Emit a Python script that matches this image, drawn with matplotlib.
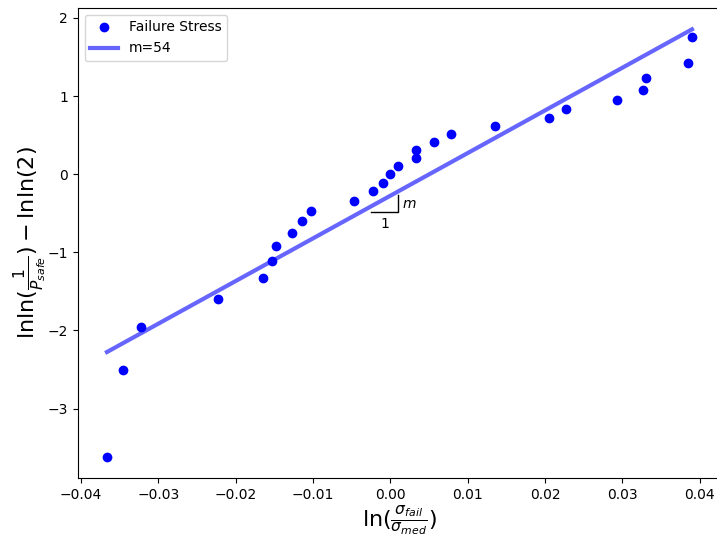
import matplotlib.pyplot as plt
import numpy as np

# data
log_stress = [-0.03665, -0.03458, -0.03226, -0.02232, -0.01652, -0.01535, -0.01484,
              -0.01277, -0.01148, -0.01032, -0.00477, -0.00219, -0.0009, 0.0,
              0.00103, 0.00335, 0.00335, 0.00568, 0.00787, 0.01355, 0.0205,
              0.0227, 0.0293, 0.03265, 0.0330, 0.03845, 0.0390]
lnln_p = [-3.615, -2.50, -1.96, -1.60, -1.33, -1.115, -0.92, -0.756, -0.60,
          -0.474, -0.346, -0.218, -0.115, 0.0, 0.103, 0.205, 0.308, 0.41,
          0.513, 0.615, 0.718, 0.833, 0.949, 1.077, 1.23, 1.423, 1.756]
slope = 54.6
intercept = -0.275

fig = plt.figure(figsize=(7.17, 5.39), dpi=100)
ax = fig.add_axes([0.1084, 0.1132, 0.8975, 0.872])

x = np.array(log_stress)
ax.plot(x, lnln_p, 'bo', label='Failure Stress')
xf = np.array([x.min(), x.max()])
ax.plot(xf, slope * xf + intercept, color='blue', alpha=0.6, linewidth=3,
        label='m=%d' % int(slope))

# slope triangle
ax.plot([-0.00249, 0.00103, 0.00103], [-0.487, -0.487, -0.26], color='black', linewidth=1)
ax.text(0.0015, -0.385, '$m$', fontsize=10, va='center', ha='left')
ax.text(-0.00075, -0.55, '1', fontsize=10, va='top', ha='center')

ax.set_xlabel(r'$\ln(\frac{\sigma_{fail}}{\sigma_{med}})$', fontsize=16, labelpad=1)
ax.set_ylabel(r'$\mathrm{lnln}(\frac{1}{P_{safe}})-\mathrm{lnln}(2)$', fontsize=16, labelpad=-1)
ax.legend(loc='upper left')
fig.savefig('out.png', dpi=100)
